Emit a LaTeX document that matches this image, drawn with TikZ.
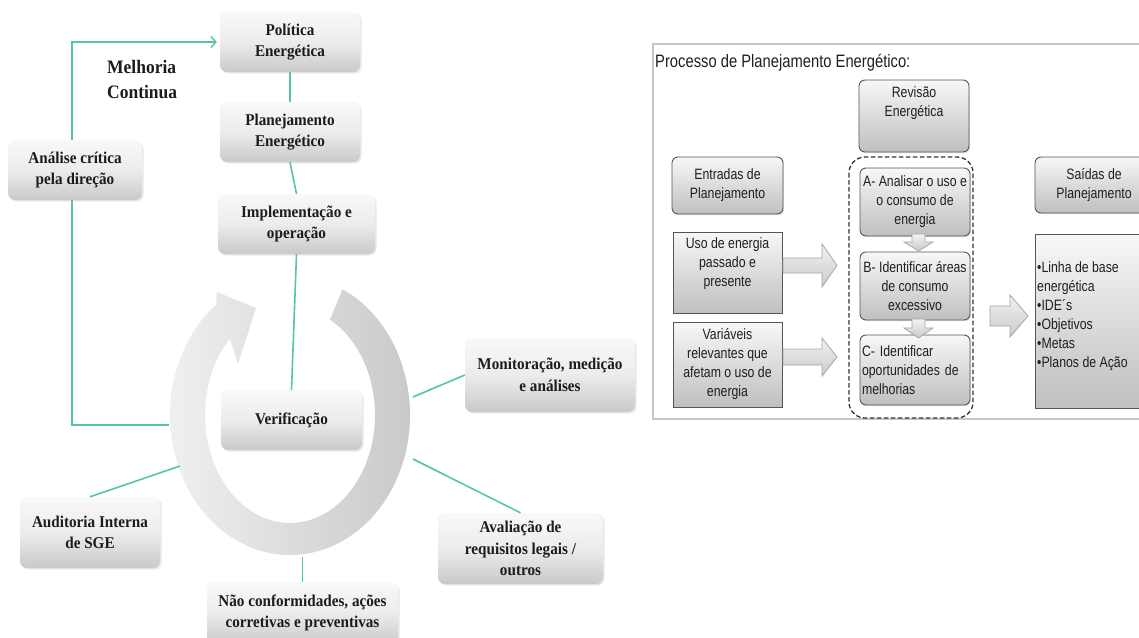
\documentclass[tikz,border=0pt]{standalone}
\usepackage{fontspec}
\setmainfont{Liberation Serif}
\newfontfamily\boxserif[FakeStretch=0.92]{Liberation Serif}
\newfontfamily\narrowsans[FakeStretch=0.82]{Liberation Sans}
\usetikzlibrary{arrows.meta,shadows}

\definecolor{linkgreen}{RGB}{86,196,170}
\definecolor{txtdark}{RGB}{28,28,28}
\definecolor{rimgray}{RGB}{85,85,85}

\begin{document}
\begin{tikzpicture}[x=1pt,y=-1pt,
  cyclebox/.style={rounded corners=7pt, top color=gray!5, bottom color=gray!42, middle color=gray!15,
    drop shadow={opacity=0.18, shadow xshift=1.5pt, shadow yshift=-1.5pt},
    font=\boxserif\bfseries\fontsize{16.5}{21.5}\selectfont, text=txtdark, align=center, inner sep=2pt},
  link/.style={draw=linkgreen, line width=1.6pt},
  stepbox/.style={rounded corners=6pt, draw=rimgray, line width=0.9pt, top color=gray!6, bottom color=gray!50,
    drop shadow={opacity=0.22, shadow xshift=1.2pt, shadow yshift=-1.2pt},
    font=\narrowsans\fontsize{15}{19}\selectfont, text=black!88, align=center, inner sep=1pt},
  flatbox/.style={stepbox, rounded corners=0pt},
  steptext/.style={font=\narrowsans\fontsize{15}{19}\selectfont, text=black!88, align=center, inner sep=0pt},
  blockarrow/.style={draw=gray!70, line width=0.8pt, top color=gray!10, bottom color=gray!42},
]
\useasboundingbox (0,0) rectangle (1139,637);
\clip (0,0) rectangle (1139,637);
\fill[white] (0,0) rectangle (1139,637);

% ---------------- cycle of the energy management system ----------------
% circular arrow around the central box
\shade[left color=gray!10, right color=gray!44]
  (290,415) ++(-64:120 and 140)
  arc[start angle=-64, end angle=232, x radius=120, y radius=140]
  -- (217,292) -- (256,308) -- (238,364) -- (229.9,338.6)
  arc[start angle=225, end angle=-62, x radius=85, y radius=108] -- cycle;

\node[cyclebox, minimum width=140pt, minimum height=60pt] (pol) at (290,42) {Política\\Energética};
\node[cyclebox, minimum width=140pt, minimum height=60pt] (plan) at (290,132) {Planejamento\\Energético};
\node[cyclebox, minimum width=157pt, minimum height=60pt] (impl) at (296.5,224) {Implementação e\\operação};
\node[cyclebox, minimum width=134pt, minimum height=60pt] (anal) at (75,170) {Análise crítica\\pela direção};
\node[cyclebox, minimum width=141pt, minimum height=60pt] (verif) at (291.5,420) {Verificação};
\node[cyclebox, minimum width=170pt, minimum height=74pt] (mon) at (550,375) {Monitoração, medição\\e análises};
\node[cyclebox, minimum width=165pt, minimum height=71pt] (aval) at (520.5,548.5) {Avaliação de\\requisitos legais /\\outros};
\node[cyclebox, minimum width=191pt, minimum height=62pt] (nao) at (302.5,613) {Não conformidades, ações\\corretivas e preventivas};
\node[cyclebox, minimum width=140pt, minimum height=71pt] (aud) at (90,532.5) {Auditoria Interna\\de SGE};

\node[font=\boxserif\bfseries\fontsize{19}{25}\selectfont, text=txtdark, align=left, anchor=west, inner sep=0pt]
  (melhoria) at (107,80) {Melhoria\\Continua};

% connection points on the circular arrow
\coordinate (ringW) at (169,425);
\coordinate (ringSW) at (180,466);
\coordinate (ringE) at (413,397);
\coordinate (ringSE) at (413,459);
\coordinate (ringS) at (302.5,557);

\draw[link] (pol.south) -- (plan.north);
\draw[link] (plan.south) -- (impl.north);
\draw[link] (impl.south) -- (verif.north);
\draw[link, -{Straight Barb[length=5pt, width=11pt, line width=1.4pt]}]
  ([xshift=-3pt]anal.north) |- ([xshift=-3pt]pol.west);
\draw[link] ([xshift=-3pt]anal.south) |- (ringW);
\draw[link] (aud.north) -- (ringSW);
\draw[link] (ringE) -- (mon.west);
\draw[link] (ringSE) -- (aval.north);
\draw[link] (ringS) -- (nao.north);

% ---------------- energy planning process ----------------
\draw[gray!45, line width=1.3pt] (653,44) rectangle (1180,419);
\node[anchor=west, font=\narrowsans\fontsize{18}{22}\selectfont, inner sep=0pt, text=black!88]
  (title) at (655,63) {Processo de Planejamento Energético:};

\draw[black!80, line width=1.3pt, dash pattern=on 4.5pt off 2.5pt, rounded corners=16pt]
  (849,157) rectangle (973,418);

\node[stepbox, minimum width=110pt, minimum height=72pt] (rev) at (914,116) {};
\node[steptext] (revtext) at (914,103) {Revisão\\Energética};

\node[stepbox, minimum width=111pt, minimum height=57pt] (ent) at (727.5,185.5) {Entradas de\\Planejamento};
\node[stepbox, minimum width=118pt, minimum height=56pt] (sai) at (1094,185) {Saídas de\\Planejamento};

\node[stepbox, minimum width=110pt, minimum height=68pt] (sa) at (915,202) {A- Analisar o uso e\\o consumo de\\energia};
\node[stepbox, minimum width=110pt, minimum height=68pt] (sb) at (915,286) {B- Identificar áreas\\de consumo\\excessivo};
\node[stepbox, minimum width=110pt, minimum height=70pt, text width=106pt, align=left] (sc) at (915,370)
  {C- Identificar\\oportunidades de\\melhorias};

\node[flatbox, minimum width=109pt, minimum height=81pt] (uso) at (727.5,272.5) {};
\node[steptext] (usotext) at (727.5,264) {Uso de energia\\passado e\\presente};
\node[flatbox, minimum width=109pt, minimum height=85pt] (var) at (727.5,364.5)
  {Variáveis\\relevantes que\\afetam o uso de\\energia};

\node[flatbox, minimum width=125pt, minimum height=174pt] (saidas) at (1097.5,321) {};
\node[steptext, anchor=west, align=left] (saidastext) at (1037,316)
  {•Linha de base\\energética\\•IDE´s\\•Objetivos\\•Metas\\•Planos de Ação};

% arrows between the steps of the energy review
\path[blockarrow] (912,234) -- (925,234) -- (925,242) -- (933,242) -- (918.5,251) -- (904,242) -- (912,242) -- cycle;
\path[blockarrow] (912,319) -- (925,319) -- (925,328) -- (933,328) -- (918.5,338) -- (904,328) -- (912,328) -- cycle;

% arrows from the inputs into the review and from the review to the outputs
\path[blockarrow] (783,258) -- (822,258) -- (822,244) -- (837,265.5) -- (822,287) -- (822,273) -- (783,273) -- cycle;
\path[blockarrow] (783,349) -- (822,349) -- (822,338) -- (837,357) -- (822,376) -- (822,365) -- (783,365) -- cycle;
\path[blockarrow] (990,306) -- (1010,306) -- (1010,295) -- (1028,316) -- (1010,337) -- (1010,326) -- (990,326) -- cycle;
\end{tikzpicture}
\end{document}
